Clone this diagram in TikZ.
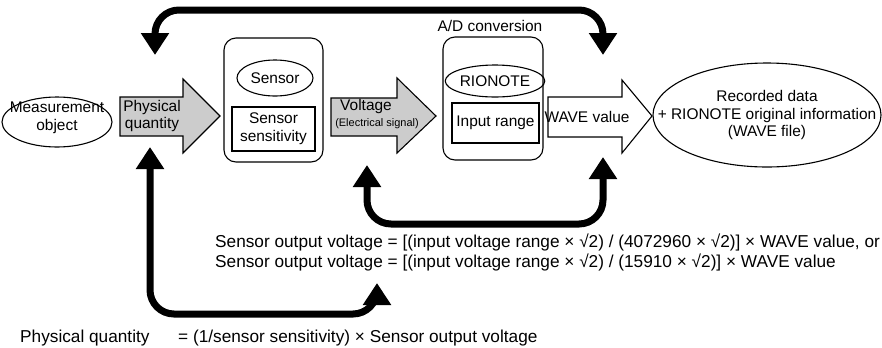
\documentclass[tikz,border=0pt]{standalone}
\usepackage{fontspec}
\setmainfont{Liberation Sans}
\usetikzlibrary{arrows.meta,shapes.geometric}
\tikzset{
  lbl/.style={align=center,inner sep=0pt,font=\fontsize{15.5}{18}\selectfont},
  eqn/.style={anchor=west,inner sep=0pt,font=\fontsize{17.3}{20}\selectfont},
  oval/.style={draw,ellipse,inner sep=0pt,line width=1.1bp},
  frame/.style={draw,line width=1.1bp},
  flow/.style={draw,line width=1.1bp,line join=miter},
  loop/.style={line width=7bp,rounded corners=24bp,
    {Triangle[width=27bp,length=22bp]}-{Triangle[width=27bp,length=22bp]}}
}
\begin{document}
\begin{tikzpicture}[x=1bp,y=-1bp]
\useasboundingbox(0,0)rectangle(882,347);
% left part
\node[oval,minimum width=110bp,minimum height=50bp](meas)at(57,122){};
\node[lbl](meast)at(57,118){Measurement\\object};
\draw[flow,fill=black!20](120,97)--(183,97)--(183,79)--(220,116)--(183,153)--(183,136)--(120,136)--cycle;
\node[lbl](phys)at(152,116){Physical\\quantity};
% sensor
\draw[frame,rounded corners=12bp](224,38)rectangle(323,162);
\node[oval,minimum width=76bp,minimum height=36bp,lbl](sensor)at(275,78){Sensor};
\node[frame,lbl,minimum width=83bp,minimum height=44bp](sens)at(273.5,129){Sensor\\sensitivity};
\draw[flow,fill=black!20](331,98)--(397,98)--(397,78)--(436,116)--(397,153)--(397,136)--(331,136)--cycle;
\node[lbl](volt)at(366,107){Voltage};
\node[inner sep=0pt,font=\fontsize{11}{13}\selectfont](elec)at(377,124){(Electrical signal)};
% A/D
\draw[frame,rounded corners=12bp](443,37)rectangle(543,160);
\node[lbl](ad)at(490,26){A/D conversion};
\node[oval,minimum width=88bp,minimum height=32bp,lbl](rio)at(495,81){RIONOTE};
\node[frame,lbl,minimum width=87bp,minimum height=40bp](range)at(495.5,123){Input range};
\draw[flow,fill=white](548,97)--(622,97)--(622,80)--(652,116)--(622,153)--(622,137)--(548,137)--cycle;
\node[lbl](wave)at(587,117){WAVE value};
\node[oval,minimum width=228bp,minimum height=104bp](rec)at(767,115){};
\node[lbl](rect)at(767,115){Recorded data\\+ RIONOTE original information\\(WAVE file)};
% loops
\coordinate(t1)at(155,55);\coordinate(t2)at(603,55);
\coordinate(b1)at(367,165);\coordinate(b2)at(603,157);
\coordinate(c1)at(150,147);\coordinate(c2)at(377,283);
\draw[loop](t1)--(155,10)--(603,10)--(t2);
\draw[loop](b1)--(367,224)--(603,224)--(b2);
\draw[loop](c1)--(150,314)--(377,314)--(c2);
% formulas
\node[eqn](f1)at(215,242){Sensor output voltage = [(input voltage range × √2) / (4072960 × √2)] × WAVE value, or};
\node[eqn](f2)at(215,262){Sensor output voltage = [(input voltage range × √2) / (15910 × √2)] × WAVE value};
\node[eqn](f3)at(20,338){Physical quantity};
\node[eqn](f4)at(178,338){= (1/sensor sensitivity) × Sensor output voltage};
\end{tikzpicture}
\end{document}
